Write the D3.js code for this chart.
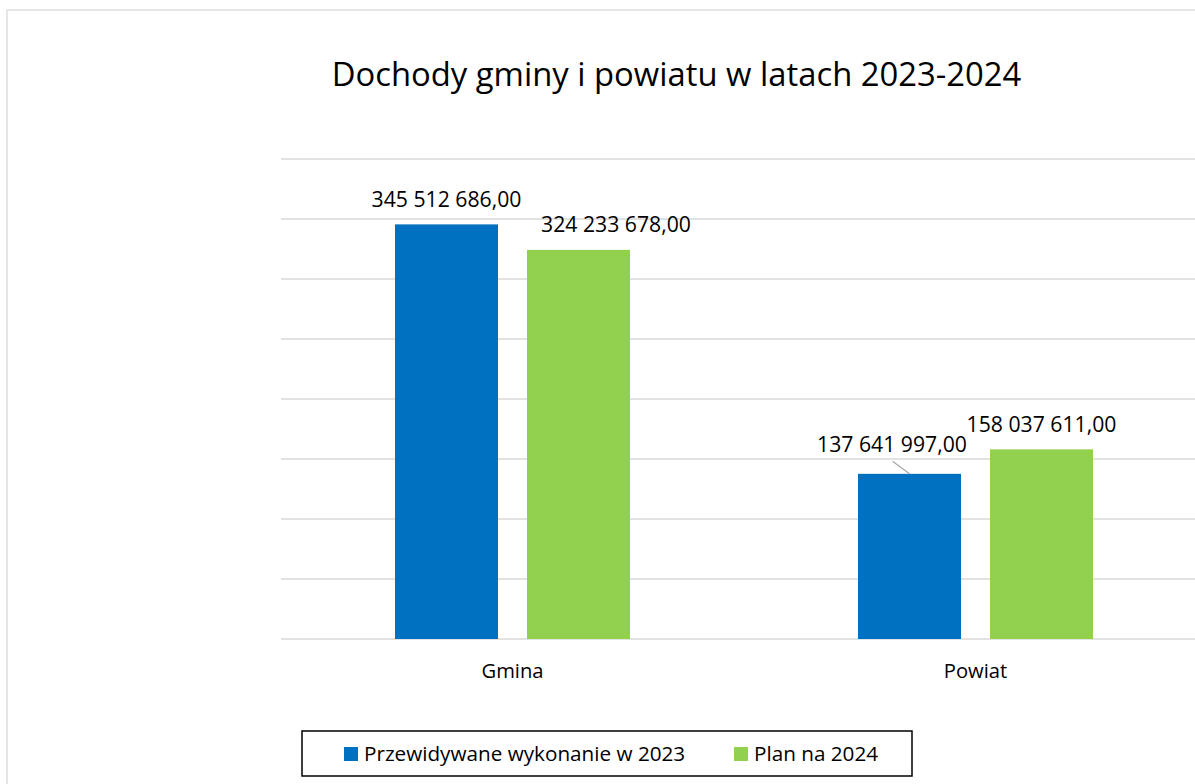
<!DOCTYPE html>
<html><head><meta charset="utf-8">
<script src="https://cdn.jsdelivr.net/npm/d3@7"></script>
<style>body{margin:0;background:#fff;}svg{display:block;font-family:"Open Sans",sans-serif;}</style>
</head><body>
<svg id="c" width="1195" height="784"></svg>
<script>
const title = "Dochody gminy i powiatu w latach 2023-2024";
const categories = ["Gmina", "Powiat"];
const seriesNames = ["Przewidywane wykonanie w 2023", "Plan na 2024"];
const series2023 = [345512686.00, 137641997.00];
const series2024 = [324233678.00, 158037611.00];
const yTicks = [0, 50e6, 100e6, 150e6, 200e6, 250e6, 300e6, 350e6, 400e6];
const colors = ["#0070C0", "#92D050"];
// label nudges (px) per [series][category], to mimic the reference's placements
const labelNudge = [[[0, -17], [-17.5, -22]], [[37.5, -18], [0, -17.5]]];

const svg = d3.select("#c");
const W = 1195, H = 784;
svg.append("rect").attr("x", 7).attr("y", 10).attr("width", W + 20).attr("height", H + 20)
  .attr("fill", "#fff").attr("stroke", "#d9d9d9").attr("stroke-width", 1.3);

const x0 = d3.scaleBand().domain(categories).range([281, 1207]).paddingInner(0).paddingOuter(0);
const x1 = d3.scaleBand().domain(seriesNames).range([0, x0.bandwidth()]).paddingInner(0.2197).paddingOuter(0.8636);
const y = d3.scaleLinear().domain([0, 400e6]).range([639, 159]);

// gridlines
svg.append("g").selectAll("line").data(yTicks).join("line")
  .attr("x1", 281).attr("x2", W).attr("y1", d => y(d)).attr("y2", d => y(d))
  .attr("stroke", "#d9d9d9").attr("stroke-width", 1.3);

const fmt = v => {
  const [ip, dp] = v.toFixed(2).split(".");
  return ip.replace(/\B(?=(\d{3})+(?!\d))/g, " ") + "," + dp;
};

const data = [series2023, series2024];
const rows = [];
data.forEach((vals, si) => vals.forEach((v, ci) => rows.push({si, ci, v, cat: categories[ci], ser: seriesNames[si]})));

svg.append("g").selectAll("rect").data(rows).join("rect")
  .attr("x", d => x0(d.cat) + x1(d.ser))
  .attr("width", x1.bandwidth())
  .attr("y", d => y(d.v))
  .attr("height", d => y(0) - y(d.v))
  .attr("fill", d => colors[d.si]);

// leader line for the shifted Powiat 2023 label
const lr = rows.find(d => d.si === 0 && d.ci === 1);
const lx = x0(lr.cat) + x1(lr.ser) + x1.bandwidth() / 2;
svg.append("line").attr("x1", lx - 17).attr("y1", y(lr.v) - 12.5).attr("x2", lx).attr("y2", y(lr.v))
  .attr("stroke", "#a6a6a6").attr("stroke-width", 1.2);

svg.append("g").selectAll("text").data(rows).join("text")
  .attr("x", d => x0(d.cat) + x1(d.ser) + x1.bandwidth() / 2 + labelNudge[d.si][d.ci][0])
  .attr("y", d => y(d.v) + labelNudge[d.si][d.ci][1])
  .attr("text-anchor", "middle").attr("font-size", 21.2).attr("fill", "#000")
  .text(d => fmt(d.v));

// category axis labels
svg.append("g").selectAll("text").data(categories).join("text")
  .attr("x", d => x0(d) + x0.bandwidth() / 2).attr("y", 678)
  .attr("text-anchor", "middle").attr("font-size", 20.2).attr("fill", "#000").text(d => d);

// title
svg.append("text").attr("x", 676.5).attr("y", 86).attr("text-anchor", "middle")
  .attr("font-size", 32.8).attr("fill", "#000").text(title);

// legend
const lg = svg.append("g");
lg.append("rect").attr("x", 302).attr("y", 731).attr("width", 610).attr("height", 45)
  .attr("fill", "#fff").attr("stroke", "#000").attr("stroke-width", 1.5);
const legX = [344, 734];
seriesNames.forEach((s, i) => {
  lg.append("rect").attr("x", legX[i]).attr("y", 747).attr("width", 14).attr("height", 14).attr("fill", colors[i]);
  lg.append("text").attr("x", legX[i] + 20).attr("y", 761).attr("font-size", 20.7).attr("fill", "#000").text(s);
});
</script>
</body></html>
